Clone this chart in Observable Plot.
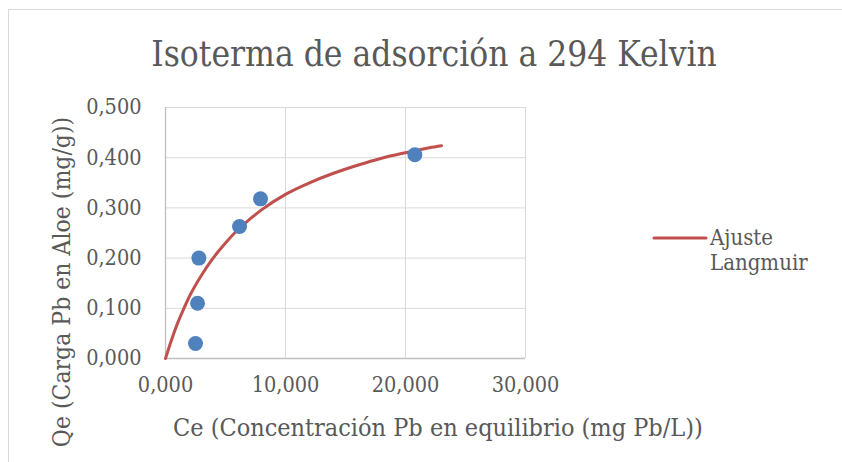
<!DOCTYPE html>
<html>
<head>
<meta charset="utf-8">
<script src="https://cdn.jsdelivr.net/npm/d3@7"></script>
<script src="https://cdn.jsdelivr.net/npm/@observablehq/plot@0.6"></script>
<style>
  html, body { margin: 0; padding: 0; background: #fff; }
  body { width: 842px; height: 462px; overflow: hidden; position: relative;
         font-family: "DejaVu Serif Condensed", "DejaVu Serif", serif; font-stretch: condensed; color: #595959; }
  #frame { position: absolute; left: 8px; top: 9px; width: 900px; height: 500px;
           border-left: 1px solid #d9d9d9; border-top: 1px solid #d9d9d9; }
  #chart { position: absolute; left: 0; top: 0; }
  .lbl { position: absolute; white-space: nowrap; line-height: 1; }
  #title { left: 0; width: 868px; top: 37px; text-align: center; font-size: 35px; }
  #xlabel { left: 173px; top: 415px; font-size: 25px; }
  #ylabel { left: 62px; top: 282px; font-size: 24.5px; transform: translate(-50%, -50%) rotate(-90deg); }
  #legend { left: 652px; top: 225px; font-size: 22px; display: flex; align-items: flex-start; }
  #legend svg { margin-top: 3px; }
</style>
</head>
<body>
<div id="frame"></div>
<div id="chart"></div>
<div class="lbl" id="title"></div>
<div class="lbl" id="xlabel"></div>
<div class="lbl" id="ylabel"></div>
<div class="lbl" id="legend"></div>
<script>
// Data
const ceValues = [2.50, 2.67, 2.78, 6.17, 7.92, 20.78];
const qeValues = [0.030, 0.110, 0.200, 0.263, 0.318, 0.406];
// Langmuir fit curve
const fitCe = [0, 0.5, 1, 1.5, 2, 3, 4, 5, 6, 7, 8, 10, 12, 14, 16, 18, 20, 22, 23];
const fitQe = [0, 0.037, 0.070, 0.098, 0.124, 0.166, 0.201, 0.230, 0.256, 0.277, 0.296, 0.327, 0.350, 0.369, 0.385, 0.399, 0.410, 0.420, 0.424];
const xTicks = [0, 10, 20, 30];
const yTicks = [0, 0.1, 0.2, 0.3, 0.4, 0.5];

const titleText = "Isoterma de adsorción a 294 Kelvin";
const xLabelText = "Ce (Concentración Pb en equilibrio (mg Pb/L))";
const yLabelText = "Qe (Carga Pb en Aloe (mg/g))";
const legendText = ["Ajuste", "Langmuir"];

const points = ceValues.map((c, i) => ({c, q: qeValues[i]}));
const fit = fitCe.map((c, i) => ({c, q: fitQe[i]}));
const fmt = d3.formatLocale({decimal: ",", thousands: ".", grouping: [3]}).format(".3f");

const fontFamily = '"DejaVu Serif Condensed", "DejaVu Serif", serif';
const chart = Plot.plot({
  width: 842, height: 462,
  marginLeft: 165, marginRight: 317, marginTop: 107, marginBottom: 104,
  x: {domain: [0, 30]},
  y: {domain: [0, 0.5]},
  style: {fontFamily, fontSize: "21.5px", color: "#595959", background: "transparent", fontStretch: "condensed"},
  marks: [
    Plot.gridX(xTicks, {stroke: "#d9d9d9", strokeOpacity: 1, strokeWidth: 1}),
    Plot.gridY(yTicks, {stroke: "#d9d9d9", strokeOpacity: 1, strokeWidth: 1}),
    Plot.ruleX([0], {stroke: "#bfbfbf", strokeWidth: 1.3}),
    Plot.ruleY([0], {stroke: "#bfbfbf", strokeWidth: 1.3}),
    Plot.axisX(xTicks, {tickSize: 0, tickPadding: 18, tickFormat: fmt, label: null, fontSize: 21.5}),
    Plot.axisY(yTicks, {tickSize: 0, tickPadding: 24, tickFormat: fmt, label: null, fontSize: 21.5}),
    Plot.line(fit, {x: "c", y: "q", stroke: "#C0504D", strokeWidth: 3, curve: "monotone-x"}),
    Plot.dot(points, {x: "c", y: "q", r: 7.5, fill: "#4F81BD", stroke: "none"})
  ]
});
document.getElementById("chart").appendChild(chart);
document.getElementById("title").textContent = titleText;
document.getElementById("xlabel").textContent = xLabelText;
document.getElementById("ylabel").textContent = yLabelText;
document.getElementById("legend").innerHTML =
  '<svg width="56" height="16"><line x1="2" x2="54" y1="10" y2="10" stroke="#C0504D" stroke-width="3" stroke-linecap="round"/></svg>' +
  '<div style="margin-left:2px;line-height:1.15">' + legendText.join("<br>") + '</div>';
</script>
</body>
</html>
